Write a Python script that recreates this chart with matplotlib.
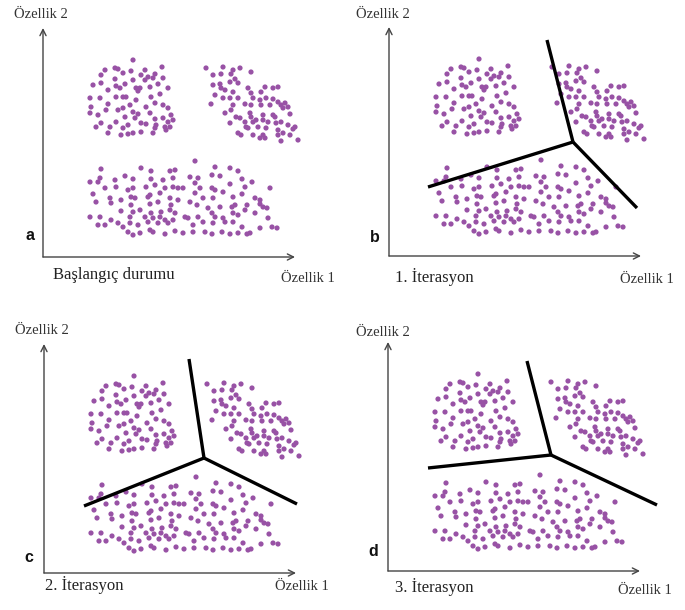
import matplotlib
matplotlib.use("Agg")
import matplotlib.pyplot as plt
import numpy as np

# ---- data (Özellik 1, Özellik 2) ----
cluster_tl_x = [90, 62, 72, 75, 88, 102, 119, 58, 80, 98, 105, 112, 72, 90, 102, 110, 120, 50, 58, 73, 82, 93, 97, 107, 115,
                65, 77, 95, 125, 80, 83, 93, 108, 117, 47, 57, 73, 48, 65, 80, 87, 103, 112, 120, 125, 63, 75, 90, 95, 107,
                128, 47, 55, 82, 92, 112, 120, 58, 73, 85, 98, 103, 113, 125, 53, 67, 80, 112, 122, 130, 65, 78, 85, 90, 98,
                110, 123, 127]
cluster_tl_y = [197, 187, 189, 188, 186, 187, 190, 182, 184, 182, 180, 183, 178, 177, 177, 179, 179, 172, 174, 171, 173, 169, 169, 170, 173,
                167, 169, 166, 169, 160, 160, 157, 160, 163, 159, 159, 160, 150, 153, 149, 152, 150, 154, 152, 149, 147, 147, 145, 143, 144,
                142, 144, 142, 140, 139, 138, 139, 134, 135, 132, 134, 133, 132, 135, 130, 130, 129, 129, 130, 137, 124, 122, 123, 124, 125,
                124, 127, 130]

cluster_tr_x = [163, 180, 190, 197, 208, 170, 178, 188, 192, 170, 177, 178, 187, 195, 205, 222, 230, 235, 182, 190, 208, 218, 172, 180, 187,
                195, 210, 217, 223, 230, 235, 238, 242, 168, 190, 202, 208, 218, 227, 240, 245, 188, 182, 193, 197, 208, 207, 220, 230, 232,
                247, 187, 202, 210, 213, 220, 225, 233, 238, 245, 252, 195, 203, 205, 215, 223, 235, 250, 198, 210, 220, 222, 235, 240, 247,
                255, 238, 217]
cluster_tr_y = [189, 190, 187, 189, 185, 182, 183, 183, 178, 172, 173, 169, 175, 174, 169, 170, 169, 170, 167, 165, 164, 165, 162, 159, 159,
                159, 159, 157, 159, 158, 155, 152, 154, 153, 152, 153, 152, 152, 152, 149, 150, 147, 144, 140, 139, 140, 144, 142, 142, 140,
                143, 134, 135, 135, 137, 137, 135, 134, 135, 132, 130, 124, 130, 129, 130, 129, 127, 128, 122, 122, 122, 119, 122, 124, 122,
                117, 116, 119]

cluster_b_x = [58, 98, 108, 127, 132, 47, 57, 72, 82, 90, 108, 120, 130, 55, 62, 73, 85, 90, 103, 112, 122, 130, 135, 50, 67,
               78, 88, 92, 105, 107, 117, 127, 53, 68, 88, 107, 115, 128, 135, 78, 90, 97, 108, 118, 127, 132, 47, 57, 68, 87,
               102, 110, 117, 122, 130, 55, 62, 75, 80, 87, 95, 105, 115, 125, 85, 90, 97, 107, 110, 122, 132,
               152, 172, 187, 195, 147, 155, 169, 177, 199, 209, 140, 152, 157, 169, 172, 187, 202, 227, 152, 147, 160, 170, 180, 190,
               199, 212, 217, 220, 224, 154, 165, 177, 189, 192, 204, 217, 142, 145, 155, 169, 172, 180, 190, 195, 202, 212, 225, 234,
               150, 160, 170, 182, 190, 199, 217, 229, 140, 150, 162, 169, 179, 187, 195, 204, 207]
cluster_b_y = [88, 89, 86, 86, 87, 75, 79, 77, 81, 78, 78, 77, 79, 75, 69, 70, 67, 69, 70, 72, 69, 70, 69, 63, 59,
               57, 60, 59, 60, 62, 64, 59, 55, 54, 52, 53, 55, 52, 57, 46, 45, 47, 44, 45, 47, 44, 40, 40, 37, 40,
               40, 39, 40, 37, 37, 32, 32, 34, 30, 34, 32, 35, 34, 34, 25, 22, 24, 27, 25, 23, 26,
               96, 90, 89, 86, 80, 79, 82, 81, 78, 75, 69, 74, 69, 69, 67, 73, 70, 69, 64, 55, 59, 59, 65, 60,
               63, 59, 57, 50, 49, 52, 49, 50, 50, 52, 52, 53, 40, 39, 40, 44, 40, 39, 44, 42, 47, 44, 39, 29,
               32, 35, 34, 35, 35, 30, 29, 30, 24, 25, 25, 23, 25, 23, 24, 23, 24]

# boundary lines: centre point and three end points (Özellik 1, Özellik 2) per panel b, c, d
boundary_center_x = [184, 160, 163]
boundary_center_y = [114, 115, 116]
boundary_end_x = [[158, 39, 248], [145, 40, 253], [139, 40, 269]]
boundary_end_y = [[216, 69, 48], [214, 67, 69], [210, 103, 66]]

panel_letters = ["a", "b", "c", "d"]
panel_captions = ["Başlangıç durumu", "1. İterasyon", "2. İterasyon", "3. İterasyon"]
x_label = "Özellik 1"
y_label = "Özellik 2"

# ---- layout ----
W, H = 685, 610
fig = plt.figure(figsize=(W / 100, H / 100), dpi=100)
fig.patch.set_facecolor("white")

origins = [(43, 257), (389, 256), (44, 573), (388, 571)]  # pixel position of each panel's axis origin
XL, XR, YB, YT = -40, 300, -35, 255
caption_pos = [(10, -18), (6, -21), (1, -12), (7, -16)]
xlabel_pos = [(265, -21), (258, -24), (258, -14), (257, -19)]
ylabel_pos = [(-2, 243), (-6, 242), (-2, 242), (-5, 239)]
letter_pos = [(-13, 22), (-14, 18), (-15, 16), (-15, 19)]

dot_color = "#9852a5"
axis_color = "#444444"
serif = ["Liberation Serif", "DejaVu Serif"]

all_x = np.array(cluster_tl_x + cluster_tr_x + cluster_b_x)
all_y = np.array(cluster_tl_y + cluster_tr_y + cluster_b_y)

for i, (ox, oy) in enumerate(origins):
    left = (ox + XL) / W
    bottom = ((H - oy) + YB) / H
    ax = fig.add_axes([left, bottom, (XR - XL) / W, (YT - YB) / H])
    ax.set_xlim(XL, XR)
    ax.set_ylim(YB, YT)
    ax.axis("off")

    ax.scatter(all_x, all_y, s=14, color=dot_color, edgecolors="none", zorder=2)

    # axes with arrows
    ax.annotate("", xy=(252, 0), xytext=(0, 0),
                arrowprops=dict(arrowstyle="->", color=axis_color, lw=1.0, mutation_scale=11,
                                shrinkA=0, shrinkB=0))
    ax.annotate("", xy=(0, 229), xytext=(0, 0),
                arrowprops=dict(arrowstyle="->", color=axis_color, lw=1.0, mutation_scale=11,
                                shrinkA=0, shrinkB=0))

    if i > 0:
        cx, cy = boundary_center_x[i - 1], boundary_center_y[i - 1]
        for ex, ey in zip(boundary_end_x[i - 1], boundary_end_y[i - 1]):
            ax.plot([cx, ex], [cy, ey], color="black", lw=2.4, solid_capstyle="butt", zorder=3)

    ax.text(*ylabel_pos[i], y_label, ha="center", va="center", fontsize=10.5,
            family=serif, color="#333333")
    ax.text(*xlabel_pos[i], x_label, ha="center", va="center", fontsize=10.5,
            family=serif, color="#333333")
    ax.text(*caption_pos[i], panel_captions[i], ha="left", va="center", fontsize=12,
            family=serif, color="#222222")
    ax.text(*letter_pos[i], panel_letters[i], ha="center", va="center", fontsize=11.5,
            family=["Liberation Sans", "DejaVu Sans"], fontweight="bold", color="#111111")

fig.savefig("out.png", dpi=100, facecolor="white")
